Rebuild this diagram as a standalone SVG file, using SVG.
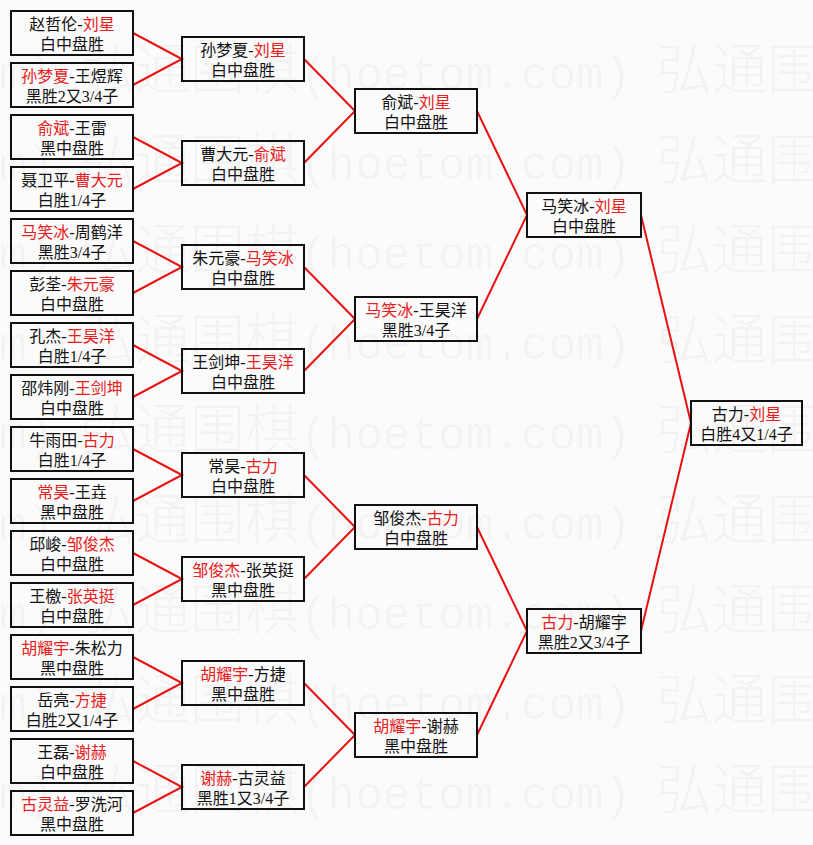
<svg xmlns="http://www.w3.org/2000/svg" width="813" height="845" viewBox="0 0 813 845">
<style>
.bg{fill:#fbfbfb}
.wm{font-family:"Liberation Mono","Noto Sans CJK SC",monospace;font-size:46px;fill:#000;fill-opacity:0.035}
.wmc{font-family:"Noto Sans CJK SC",sans-serif;font-size:55px;font-weight:300}
.box{fill:none;stroke:#111;stroke-width:2}
.lnk{fill:none;stroke:#e81010;stroke-width:2}
.t{font-family:"Liberation Serif","Noto Sans CJK SC",serif;font-size:16px;fill:#111;text-anchor:middle}
.r{fill:#e82020}
</style>
<rect class="bg" x="0" y="0" width="813" height="845"/>
<g id="watermark">
<text class="wm" y="89"><tspan x="-277">(hoetom.com)</tspan><tspan class="wmc" x="80">弘通围棋</tspan><tspan x="300">(hoetom.com)</tspan><tspan class="wmc" x="657">弘通围棋</tspan></text>
<text class="wm" y="179"><tspan x="-277">(hoetom.com)</tspan><tspan class="wmc" x="80">弘通围棋</tspan><tspan x="300">(hoetom.com)</tspan><tspan class="wmc" x="657">弘通围棋</tspan></text>
<text class="wm" y="269"><tspan x="-277">(hoetom.com)</tspan><tspan class="wmc" x="80">弘通围棋</tspan><tspan x="300">(hoetom.com)</tspan><tspan class="wmc" x="657">弘通围棋</tspan></text>
<text class="wm" y="359"><tspan x="-277">(hoetom.com)</tspan><tspan class="wmc" x="80">弘通围棋</tspan><tspan x="300">(hoetom.com)</tspan><tspan class="wmc" x="657">弘通围棋</tspan></text>
<text class="wm" y="449"><tspan x="-277">(hoetom.com)</tspan><tspan class="wmc" x="80">弘通围棋</tspan><tspan x="300">(hoetom.com)</tspan><tspan class="wmc" x="657">弘通围棋</tspan></text>
<text class="wm" y="539"><tspan x="-277">(hoetom.com)</tspan><tspan class="wmc" x="80">弘通围棋</tspan><tspan x="300">(hoetom.com)</tspan><tspan class="wmc" x="657">弘通围棋</tspan></text>
<text class="wm" y="629"><tspan x="-277">(hoetom.com)</tspan><tspan class="wmc" x="80">弘通围棋</tspan><tspan x="300">(hoetom.com)</tspan><tspan class="wmc" x="657">弘通围棋</tspan></text>
<text class="wm" y="719"><tspan x="-277">(hoetom.com)</tspan><tspan class="wmc" x="80">弘通围棋</tspan><tspan x="300">(hoetom.com)</tspan><tspan class="wmc" x="657">弘通围棋</tspan></text>
<text class="wm" y="809"><tspan x="-277">(hoetom.com)</tspan><tspan class="wmc" x="80">弘通围棋</tspan><tspan x="300">(hoetom.com)</tspan><tspan class="wmc" x="657">弘通围棋</tspan></text>
</g>
<g id="connectors">
<polyline class="lnk" points="133,33 182,59 133,85"/>
<polyline class="lnk" points="133,137 182,163 133,189"/>
<polyline class="lnk" points="133,241 182,267 133,293"/>
<polyline class="lnk" points="133,345 182,371 133,397"/>
<polyline class="lnk" points="133,449 182,475 133,501"/>
<polyline class="lnk" points="133,553 182,579 133,605"/>
<polyline class="lnk" points="133,657 182,683 133,709"/>
<polyline class="lnk" points="133,761 182,787 133,813"/>
<polyline class="lnk" points="304,59 355,111 304,163"/>
<polyline class="lnk" points="304,267 355,319 304,371"/>
<polyline class="lnk" points="304,475 355,527 304,579"/>
<polyline class="lnk" points="304,683 355,735 304,787"/>
<polyline class="lnk" points="477,111 527,215 477,319"/>
<polyline class="lnk" points="477,527 527,631 477,735"/>
<polyline class="lnk" points="641,215 691,423 641,631"/>
</g>
<g id="r1-1"><rect class="box" x="11" y="11" width="122" height="44"/><text class="t" x="72" y="30">赵哲伦-<tspan class="r">刘星</tspan></text><text class="t" x="72" y="50">白中盘胜</text></g>
<g id="r1-2"><rect class="box" x="11" y="63" width="122" height="44"/><text class="t" x="72" y="82"><tspan class="r">孙梦夏</tspan>-王煜辉</text><text class="t" x="72" y="102">黑胜2又3/4子</text></g>
<g id="r1-3"><rect class="box" x="11" y="115" width="122" height="44"/><text class="t" x="72" y="134"><tspan class="r">俞斌</tspan>-王雷</text><text class="t" x="72" y="154">黑中盘胜</text></g>
<g id="r1-4"><rect class="box" x="11" y="167" width="122" height="44"/><text class="t" x="72" y="186">聂卫平-<tspan class="r">曹大元</tspan></text><text class="t" x="72" y="206">白胜1/4子</text></g>
<g id="r1-5"><rect class="box" x="11" y="219" width="122" height="44"/><text class="t" x="72" y="238"><tspan class="r">马笑冰</tspan>-周鹤洋</text><text class="t" x="72" y="258">黑胜3/4子</text></g>
<g id="r1-6"><rect class="box" x="11" y="271" width="122" height="44"/><text class="t" x="72" y="290">彭荃-<tspan class="r">朱元豪</tspan></text><text class="t" x="72" y="310">白中盘胜</text></g>
<g id="r1-7"><rect class="box" x="11" y="323" width="122" height="44"/><text class="t" x="72" y="342">孔杰-<tspan class="r">王昊洋</tspan></text><text class="t" x="72" y="362">白胜1/4子</text></g>
<g id="r1-8"><rect class="box" x="11" y="375" width="122" height="44"/><text class="t" x="72" y="394">邵炜刚-<tspan class="r">王剑坤</tspan></text><text class="t" x="72" y="414">白中盘胜</text></g>
<g id="r1-9"><rect class="box" x="11" y="427" width="122" height="44"/><text class="t" x="72" y="446">牛雨田-<tspan class="r">古力</tspan></text><text class="t" x="72" y="466">白胜1/4子</text></g>
<g id="r1-10"><rect class="box" x="11" y="479" width="122" height="44"/><text class="t" x="72" y="498"><tspan class="r">常昊</tspan>-王垚</text><text class="t" x="72" y="518">黑中盘胜</text></g>
<g id="r1-11"><rect class="box" x="11" y="531" width="122" height="44"/><text class="t" x="72" y="550">邱峻-<tspan class="r">邹俊杰</tspan></text><text class="t" x="72" y="570">白中盘胜</text></g>
<g id="r1-12"><rect class="box" x="11" y="583" width="122" height="44"/><text class="t" x="72" y="602">王檄-<tspan class="r">张英挺</tspan></text><text class="t" x="72" y="622">白中盘胜</text></g>
<g id="r1-13"><rect class="box" x="11" y="635" width="122" height="44"/><text class="t" x="72" y="654"><tspan class="r">胡耀宇</tspan>-朱松力</text><text class="t" x="72" y="674">黑中盘胜</text></g>
<g id="r1-14"><rect class="box" x="11" y="687" width="122" height="44"/><text class="t" x="72" y="706">岳亮-<tspan class="r">方捷</tspan></text><text class="t" x="72" y="726">白胜2又1/4子</text></g>
<g id="r1-15"><rect class="box" x="11" y="739" width="122" height="44"/><text class="t" x="72" y="758">王磊-<tspan class="r">谢赫</tspan></text><text class="t" x="72" y="778">白中盘胜</text></g>
<g id="r1-16"><rect class="box" x="11" y="791" width="122" height="44"/><text class="t" x="72" y="810"><tspan class="r">古灵益</tspan>-罗洗河</text><text class="t" x="72" y="830">黑中盘胜</text></g>
<g id="r2-1"><rect class="box" x="182" y="37" width="122" height="44"/><text class="t" x="243" y="56">孙梦夏-<tspan class="r">刘星</tspan></text><text class="t" x="243" y="76">白中盘胜</text></g>
<g id="r2-2"><rect class="box" x="182" y="141" width="122" height="44"/><text class="t" x="243" y="160">曹大元-<tspan class="r">俞斌</tspan></text><text class="t" x="243" y="180">白中盘胜</text></g>
<g id="r2-3"><rect class="box" x="182" y="245" width="122" height="44"/><text class="t" x="243" y="264">朱元豪-<tspan class="r">马笑冰</tspan></text><text class="t" x="243" y="284">白中盘胜</text></g>
<g id="r2-4"><rect class="box" x="182" y="349" width="122" height="44"/><text class="t" x="243" y="368">王剑坤-<tspan class="r">王昊洋</tspan></text><text class="t" x="243" y="388">白中盘胜</text></g>
<g id="r2-5"><rect class="box" x="182" y="453" width="122" height="44"/><text class="t" x="243" y="472">常昊-<tspan class="r">古力</tspan></text><text class="t" x="243" y="492">白中盘胜</text></g>
<g id="r2-6"><rect class="box" x="182" y="557" width="122" height="44"/><text class="t" x="243" y="576"><tspan class="r">邹俊杰</tspan>-张英挺</text><text class="t" x="243" y="596">黑中盘胜</text></g>
<g id="r2-7"><rect class="box" x="182" y="661" width="122" height="44"/><text class="t" x="243" y="680"><tspan class="r">胡耀宇</tspan>-方捷</text><text class="t" x="243" y="700">黑中盘胜</text></g>
<g id="r2-8"><rect class="box" x="182" y="765" width="122" height="44"/><text class="t" x="243" y="784"><tspan class="r">谢赫</tspan>-古灵益</text><text class="t" x="243" y="804">黑胜1又3/4子</text></g>
<g id="r3-1"><rect class="box" x="355" y="89" width="122" height="44"/><text class="t" x="416" y="108">俞斌-<tspan class="r">刘星</tspan></text><text class="t" x="416" y="128">白中盘胜</text></g>
<g id="r3-2"><rect class="box" x="355" y="297" width="122" height="44"/><text class="t" x="416" y="316"><tspan class="r">马笑冰</tspan>-王昊洋</text><text class="t" x="416" y="336">黑胜3/4子</text></g>
<g id="r3-3"><rect class="box" x="355" y="505" width="122" height="44"/><text class="t" x="416" y="524">邹俊杰-<tspan class="r">古力</tspan></text><text class="t" x="416" y="544">白中盘胜</text></g>
<g id="r3-4"><rect class="box" x="355" y="713" width="122" height="44"/><text class="t" x="416" y="732"><tspan class="r">胡耀宇</tspan>-谢赫</text><text class="t" x="416" y="752">黑中盘胜</text></g>
<g id="r4-1"><rect class="box" x="527" y="193" width="114" height="44"/><text class="t" x="584" y="212">马笑冰-<tspan class="r">刘星</tspan></text><text class="t" x="584" y="232">白中盘胜</text></g>
<g id="r4-2"><rect class="box" x="527" y="609" width="114" height="44"/><text class="t" x="584" y="628"><tspan class="r">古力</tspan>-胡耀宇</text><text class="t" x="584" y="648">黑胜2又3/4子</text></g>
<g id="final"><rect class="box" x="691" y="401" width="111" height="44"/><text class="t" x="746.5" y="420">古力-<tspan class="r">刘星</tspan></text><text class="t" x="746.5" y="440">白胜4又1/4子</text></g>
</svg>
